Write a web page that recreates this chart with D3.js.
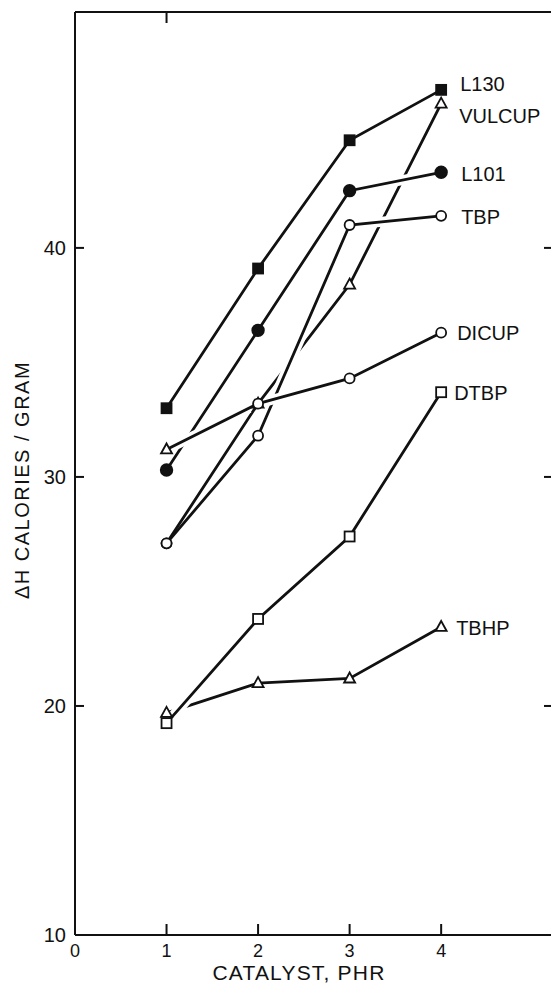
<!DOCTYPE html>
<html>
<head>
<meta charset="utf-8">
<script src="https://cdn.jsdelivr.net/npm/d3@7"></script>
<style>
  body { margin: 0; background: #fff; }
  svg { display: block; }
  text { font-family: "Liberation Sans", Arial, sans-serif; fill: #111; }
</style>
</head>
<body>
<svg id="chart" width="551" height="983"></svg>
<script>
// catalyst level (phr) and heat of reaction (cal/g) per catalyst
var catalyst = [1, 2, 3, 4];
var l130   = [33.0, 39.1, 44.7, 46.9];
var vulcup = [27.1, 33.2, 38.4, 46.3];
var l101   = [30.3, 36.4, 42.5, 43.3];
var tbp    = [27.1, 31.8, 41.0, 41.4];
var dicup  = [31.2, 33.2, 34.3, 36.3];
var dtbp   = [19.25, 23.8, 27.4, 33.7];
var tbhp   = [19.7, 21.0, 21.2, 23.45];

var names = ['VULCUP', 'TBHP', 'L130', 'TBP', 'L101', 'DICUP', 'DTBP'];
var seriesValues = [vulcup, tbhp, l130, tbp, l101, dicup, dtbp];
var markers = [
  ['circle', 'triangle', 'triangle', 'triangle'],
  ['triangle', 'triangle', 'triangle', 'triangle'],
  ['squareFilled', 'squareFilled', 'squareFilled', 'squareFilled'],
  ['circle', 'circle', 'circle', 'circle'],
  ['dot', 'dot', 'dot', 'dot'],
  ['triangle', 'circle', 'circle', 'circle'],
  ['square', 'square', 'square', 'square']
];

var xTicks = [0, 1, 2, 3, 4];
var yTicks = [10, 20, 30, 40];

// segments that get a white halo, so they break the lines drawn before them
var cutSegments = { 'TBP': [1, 2], 'L101': [2], 'DICUP': [0, 1], 'DTBP': [0] };
// label nudges (px) next to the last point
var labelShift = { 'L130': [19, -6], 'VULCUP': [18, 12], 'L101': [20, 2], 'TBP': [20, 1],
                   'DICUP': [16, 0], 'DTBP': [13, 1], 'TBHP': [15, 1] };

var svg = d3.select('#chart');

var x = d3.scaleLinear().domain([0, 5.2]).range([75, 551]);
var y = d3.scaleLinear().domain([10, 50.3]).range([935, 12]);

// frame
var frame = svg.append('g').attr('stroke', '#111').attr('stroke-width', 2).attr('fill', 'none');
frame.append('line').attr('x1', x(0)).attr('x2', x(0)).attr('y1', y(50.3)).attr('y2', y(10));
frame.append('line').attr('x1', x(0)).attr('x2', 551).attr('y1', y(10)).attr('y2', y(10));
frame.append('line').attr('x1', x(0)).attr('x2', 551).attr('y1', y(50.3)).attr('y2', y(50.3));

// ticks pointing inward
frame.selectAll('.xt').data(xTicks.slice(1)).enter().append('line')
  .attr('x1', function(d) { return x(d); }).attr('x2', function(d) { return x(d); })
  .attr('y1', y(10)).attr('y2', y(10) - 11);
frame.selectAll('.yt').data(yTicks.slice(1)).enter().append('line')
  .attr('x1', x(0)).attr('x2', x(0) + 9)
  .attr('y1', function(d) { return y(d); }).attr('y2', function(d) { return y(d); });
frame.selectAll('.yr').data(yTicks.slice(1)).enter().append('line')
  .attr('x1', 551).attr('x2', 544)
  .attr('y1', function(d) { return y(d); }).attr('y2', function(d) { return y(d); });
frame.append('line').attr('x1', x(1)).attr('x2', x(1)).attr('y1', y(50.3)).attr('y2', y(50.3) + 11);

// tick labels
svg.selectAll('.xl').data(xTicks).enter().append('text')
  .attr('x', function(d) { return x(d); }).attr('y', y(10) + 22)
  .attr('text-anchor', 'middle').attr('font-size', 18)
  .text(function(d) { return d; });
svg.selectAll('.yl').data(yTicks).enter().append('text')
  .attr('x', x(0) - 9).attr('y', function(d) { return y(d) + 7; })
  .attr('text-anchor', 'end').attr('font-size', 20)
  .text(function(d) { return d; });

// axis titles
svg.append('text').attr('x', 299).attr('y', 980).attr('text-anchor', 'middle')
  .attr('font-size', 21).attr('letter-spacing', 1.2).text('CATALYST, PHR');
svg.append('text').attr('transform', 'translate(29,480) rotate(-90)')
  .attr('text-anchor', 'middle').attr('font-size', 20).attr('letter-spacing', 1.5)
  .text('ΔH CALORIES / GRAM');

var line = d3.line()
  .x(function(d, i) { return x(catalyst[i]); })
  .y(function(d) { return y(d); });

var plot = svg.append('g');

names.forEach(function(name, k) {
  var vals = seriesValues[k];
  var g = plot.append('g');
  (cutSegments[name] || []).forEach(function(s) {
    var x0 = x(catalyst[s]), y0 = y(vals[s]), x1 = x(catalyst[s + 1]), y1 = y(vals[s + 1]);
    var len = Math.hypot(x1 - x0, y1 - y0), trim = 10 / len;
    g.append('line')
      .attr('x1', x0 + (x1 - x0) * trim).attr('y1', y0 + (y1 - y0) * trim)
      .attr('x2', x1 - (x1 - x0) * trim).attr('y2', y1 - (y1 - y0) * trim)
      .attr('stroke', '#fff').attr('stroke-width', 10);
  });
  g.append('path').datum(vals).attr('d', line)
    .attr('fill', 'none').attr('stroke', '#111').attr('stroke-width', 2.8);
});

// markers on top
names.forEach(function(name, k) {
  var vals = seriesValues[k];
  vals.forEach(function(v, i) {
    var cx = x(catalyst[i]), cy = y(v), m = markers[k][i];
    var sym;
    if (m === 'circle' || m === 'dot') {
      sym = plot.append('circle').attr('cx', cx).attr('cy', cy).attr('r', m === 'dot' ? 5.8 : 5);
    } else if (m === 'square' || m === 'squareFilled') {
      sym = plot.append('rect').attr('x', cx - 5).attr('y', cy - 5).attr('width', 10).attr('height', 10);
    } else {
      sym = plot.append('path').attr('transform', 'translate(' + cx + ',' + cy + ')')
        .attr('d', 'M0,-6L5.5,4L-5.5,4Z');
    }
    var filled = (m === 'dot' || m === 'squareFilled');
    sym.attr('fill', filled ? '#111' : '#fff').attr('stroke', '#111').attr('stroke-width', 1.8);
  });
  var last = vals.length - 1;
  var sh = labelShift[name];
  plot.append('text')
    .attr('x', x(catalyst[last]) + sh[0]).attr('y', y(vals[last]) + sh[1] + 7)
    .attr('font-size', 20).text(name);
});
</script>
</body>
</html>
